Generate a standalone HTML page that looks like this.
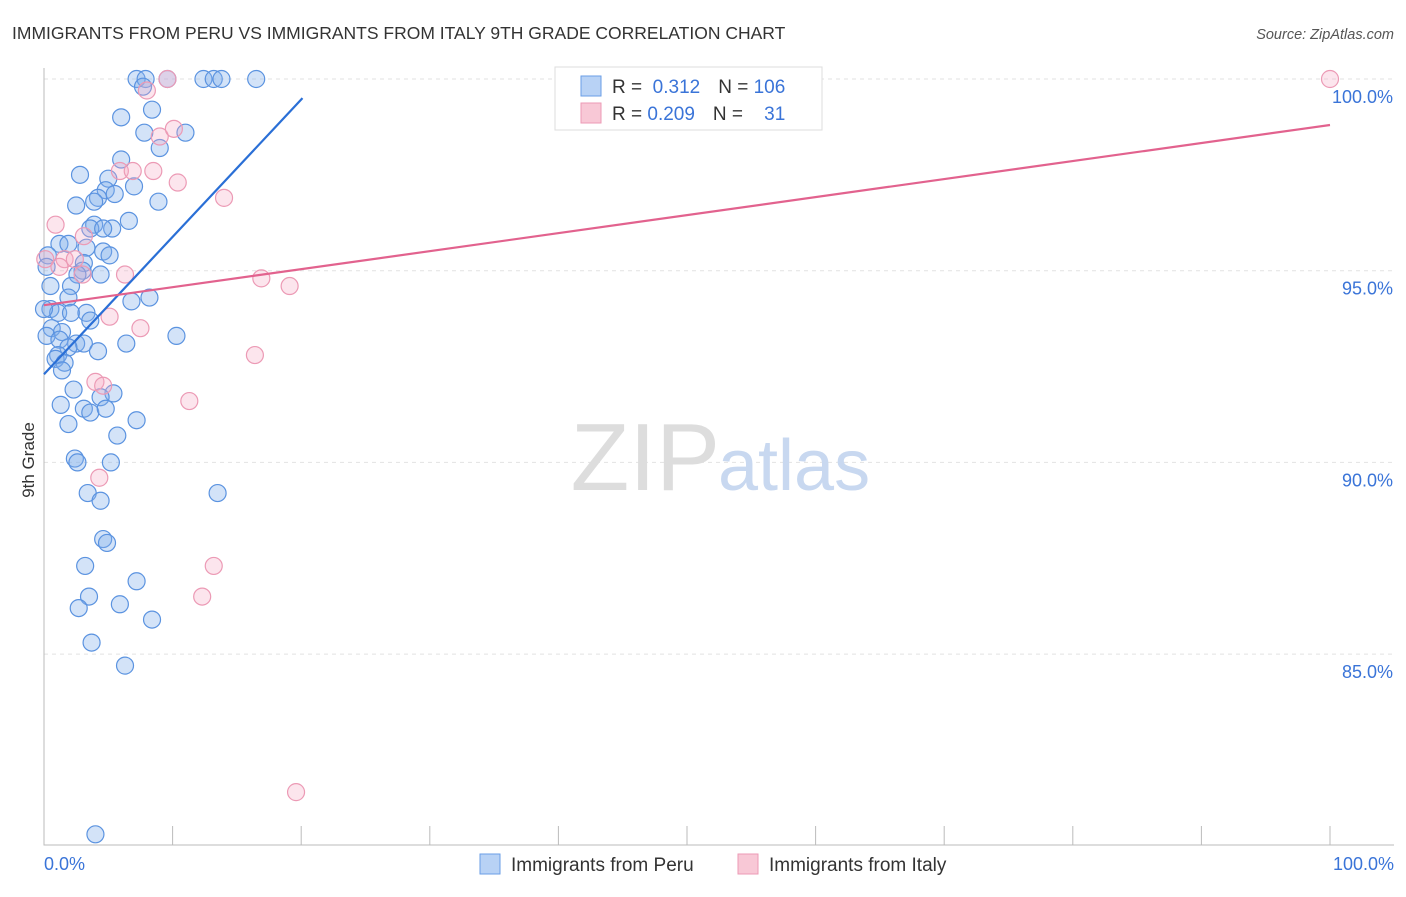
<!DOCTYPE html>
<html><head><meta charset="utf-8"><style>
body{margin:0;background:#fff;font-family:"Liberation Sans",sans-serif}
svg text{font-family:"Liberation Sans",sans-serif}
</style></head><body>
<svg width="1406" height="892">
<text x="12" y="39" font-size="17.5" fill="#333">IMMIGRANTS FROM PERU VS IMMIGRANTS FROM ITALY 9TH GRADE CORRELATION CHART</text>
<text x="1394" y="39" font-size="14.5" fill="#555" text-anchor="end" font-style="italic">Source: ZipAtlas.com</text>
<g id="grid"></g>
<text x="720" y="490" font-size="96" fill="#ddd" text-anchor="end" font-family="Liberation Serif">ZIP</text>
<text x="718" y="490" font-size="72" fill="#c8d8f0">atlas</text>
<g id="pts"></g>
<g id="lines"></g>
<text x="34" y="460" font-size="17" fill="#333" text-anchor="middle" transform="rotate(-90 34 460)">9th Grade</text>
<g>
<rect x="555" y="67" width="267" height="63" fill="#fff" stroke="#ddd"/>
<rect x="581" y="76" width="20" height="20" fill="#b8d2f5" stroke="#6a9ee6"/>
<rect x="581" y="103" width="20" height="20" fill="#f8c8d6" stroke="#ec9ab5"/>
<text x="612" y="93" font-size="19" fill="#333">R = <tspan fill="#3a74d8">&#160;0.312</tspan><tspan dx="18">N = </tspan><tspan fill="#3a74d8">106</tspan></text>
<text x="612" y="120" font-size="19" fill="#333">R = <tspan fill="#3a74d8">0.209</tspan><tspan dx="18">N = </tspan><tspan fill="#3a74d8">&#160;&#160;&#160;31</tspan></text>
</g>
<g>
<rect x="480" y="854" width="20" height="20" fill="#b8d2f5" stroke="#6a9ee6"/>
<text x="511" y="871" font-size="19" fill="#333">Immigrants from Peru</text>
<rect x="738" y="854" width="20" height="20" fill="#f8c8d6" stroke="#ec9ab5"/>
<text x="769" y="871" font-size="19" fill="#333">Immigrants from Italy</text>
</g>
</svg>
<script>
const yTicks=[100,95,90,85];
const xTickLabels=["0.0%","100.0%"];
const peruX=[7.2,7.9,9.6,12.4,13.2,13.8,16.5,7.7,8.4,6.0,7.8,11.0,9.0,6.0,5.0,2.8,7.0,4.8,5.5,4.2,8.9,2.5,3.9,6.6,3.9,3.6,5.3,4.6,1.2,1.9,3.3,4.6,5.1,0.3,3.1,3.0,4.4,2.6,2.1,1.9,8.2,6.8,0.5,1.1,2.1,3.3,3.6,0.6,1.4,0.2,1.2,2.5,3.1,1.9,6.4,10.3,1.1,4.2,0.9,1.6,1.4,2.3,5.4,4.4,1.3,3.1,3.6,4.8,7.2,1.9,5.7,2.4,2.6,5.2,3.4,4.4,13.5,4.6,4.9,3.2,7.2,3.5,2.7,5.9,8.4,3.7,6.3,4.0,0.2,0.0,0.5];
const peruY=[100,100,100,100,100,100,100,99.8,99.2,99.0,98.6,98.6,98.2,97.9,97.4,97.5,97.2,97.1,97.0,96.9,96.8,96.7,96.8,96.3,96.2,96.1,96.1,96.1,95.7,95.7,95.6,95.5,95.4,95.4,95.2,95.0,94.9,94.9,94.6,94.3,94.3,94.2,94.0,93.9,93.9,93.9,93.7,93.5,93.4,93.3,93.2,93.1,93.1,93.0,93.1,93.3,92.8,92.9,92.7,92.6,92.4,91.9,91.8,91.7,91.5,91.4,91.3,91.4,91.1,91.0,90.7,90.1,90.0,90.0,89.2,89.0,89.2,88.0,87.9,87.3,86.9,86.5,86.2,86.3,85.9,85.3,84.7,80.3,95.1,94.0,94.6];
const italyX=[9.6,100,8.0,9.0,10.1,10.4,5.9,6.9,8.5,14.0,0.9,3.1,1.6,2.4,3.0,6.3,16.9,19.1,5.1,7.5,16.4,4.0,4.6,11.3,4.3,13.2,12.3,19.6,0.1,1.2];
const italyY=[100,100,99.7,98.5,98.7,97.3,97.6,97.6,97.6,96.9,96.2,95.9,95.3,95.3,94.9,94.9,94.8,94.6,93.8,93.5,92.8,92.1,92.0,91.6,89.6,87.3,86.5,81.4,95.3,95.1];
const peruLine=[[0,92.3],[20.1,99.5]];
const italyLine=[[0,94.1],[100,98.8]];
const X=v=>44+v*12.86, Y=v=>79+(100-v)*38.34;
const NS="http://www.w3.org/2000/svg";
function mk(t,a,p){const e=document.createElementNS(NS,t);for(const k in a)e.setAttribute(k,a[k]);p.appendChild(e);return e;}
const grid=document.getElementById('grid');
yTicks.forEach(t=>{
const l=mk('line',{x1:44,x2:1394,y1:Y(t),y2:Y(t),stroke:'#e2e2e2','stroke-dasharray':'4,4'},grid);


const tx=mk('text',{x:1393,y:Y(t)+24,'font-size':18,fill:'#3a74d8','text-anchor':'end'},grid);
tx.textContent=t.toFixed(1)+'%';


});
const ax=mk('path',{d:'M44,68V845H1394',stroke:'#bbb',fill:'none'},grid);


for(let i=1;i<=10;i++){const tk=mk('line',{x1:X(i*10),x2:X(i*10),y1:826,y2:845,stroke:'#bbb'},grid);

}
[[0,'start',44],[100,'end',1394]].forEach((d,i)=>{const t=mk('text',{x:d[2],y:870,'font-size':18,fill:'#3a74d8','text-anchor':d[1]},grid);t.textContent=xTickLabels[i];

});
const pts=document.getElementById('pts');
peruX.forEach((v,i)=>{const c=mk('circle',{cx:X(v),cy:Y(peruY[i]),r:8.5,fill:'rgba(130,175,235,0.35)',stroke:'#5b93e0','stroke-width':1.2},pts);

});
italyX.forEach((v,i)=>{const c=mk('circle',{cx:X(v),cy:Y(italyY[i]),r:8.5,fill:'rgba(245,170,195,0.3)',stroke:'#ec9ab5','stroke-width':1.2},pts);

});
const lines=document.getElementById('lines');
const a=mk('line',{x1:X(peruLine[0][0]),y1:Y(peruLine[0][1]),x2:X(peruLine[1][0]),y2:Y(peruLine[1][1]),stroke:'#2a6fd6','stroke-width':2.2},lines);


const b=mk('line',{x1:X(italyLine[0][0]),y1:Y(italyLine[0][1]),x2:X(italyLine[1][0]),y2:Y(italyLine[1][1]),stroke:'#e2628e','stroke-width':2.2},lines);


</script>
</body></html>
